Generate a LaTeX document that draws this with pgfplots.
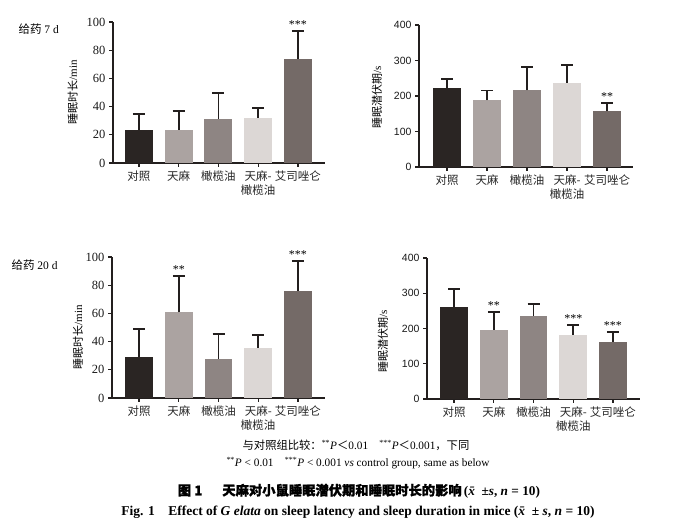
\documentclass[border=0pt]{standalone}
\usepackage{pgfplots}
\pgfplotsset{compat=1.18}
\usepackage{fontspec}
\setmainfont{Liberation Serif}
\newfontfamily\cjk{Noto Sans CJK SC}
\newfontfamily\cjkb{Noto Sans CJK SC}[FakeBold=1]
\newfontfamily\sansf{Liberation Sans}
\definecolor{cA}{HTML}{2A2523}
\definecolor{cB}{HTML}{ABA3A1}
\definecolor{cC}{HTML}{8E8583}
\definecolor{cD}{HTML}{DCD7D5}
\definecolor{cE}{HTML}{746A67}
\definecolor{axc}{HTML}{231F1E}
\newcommand\onebar[4]{\addplot[ybar, bar width=0.7, bar shift=0pt, fill=#1, draw=none,
  error bars/.cd, y dir=plus, y explicit, error mark=-,
  error bar style={line width=1.8pt, axc},
  error mark options={rotate=90, line width=1.8pt, axc, mark size=6pt}]
  coordinates {(#2,#3) +- (0,#4)};}
\tikzset{star/.style={anchor=base, inner sep=0pt, font=\fontsize{12}{12}\selectfont, yshift=2.5pt}}
\pgfplotsset{
  panel/.style={scale only axis, axis lines=left,
    axis line style={-, line width=1.5pt, axc},
    ymin=0, xtick={0,1,2,3,4},
    xticklabels={对照,天麻,橄榄油,{天麻-\\橄榄油},艾司唑仑},
    tick style={line width=1.3pt, axc}, tick align=outside, major tick length=4pt,
    xticklabel style={font=\cjk\fontsize{11.5}{14}\selectfont, align=center, anchor=north, text=black!85},
    /pgf/number format/assume math mode=true,
    ylabel style={rotate=0, anchor=center, font=\fontsize{11}{12}\selectfont},
    clip=false},
  leftp/.style={panel, ymax=100, ytick={0,20,...,100},
    yticklabel style={font=\fontsize{12.5}{12}\selectfont, text=black!90},
    ylabel={{\cjk 睡眠时长}/min}},
  rightp/.style={panel, ymax=400, ytick={0,100,...,400},
    yticklabel style={font=\sansf\fontsize{10.5}{10}\selectfont, text=black!90},
    ylabel={{\cjk 睡眠潜伏期}/s}}
}
\begin{document}
\begin{tikzpicture}[x=1pt,y=1pt]
\useasboundingbox (0,0) rectangle (684,526);
% ---- panel 1: 7 d, duration
\begin{axis}[leftp, at={(113pt,363pt)}, anchor=south west, width=212pt, height=141pt,
  xmin=-0.65, xmax=4.68, ylabel style={at={(axis description cs:-0.19,0.5)}}]
\onebar{cA}{0}{23.5}{11.3}
\onebar{cB}{1}{23.5}{13.5}
\onebar{cC}{2}{31.5}{18.1}
\onebar{cD}{3}{32.2}{6.6}
\onebar{cE}{4}{74.1}{19.3}
\node[star] at (axis cs:4,93.4) {***};
\end{axis}
% ---- panel 2: 7 d, latency
\begin{axis}[rightp, at={(419pt,359pt)}, anchor=south west, width=214pt, height=142pt,
  xmin=-0.7, xmax=4.65, ylabel style={at={(axis description cs:-0.196,0.49)}}]
\onebar{cA}{0}{223}{24.5}
\onebar{cB}{1}{188}{27.5}
\onebar{cC}{2}{215.5}{65.5}
\onebar{cD}{3}{238}{49}
\onebar{cE}{4}{157}{23}
\node[star] at (axis cs:4,180) {**};
\end{axis}
% ---- panel 3: 20 d, duration
\begin{axis}[leftp, at={(112pt,128pt)}, anchor=south west, width=213pt, height=141pt,
  xmin=-0.68, xmax=4.68, ylabel style={at={(axis description cs:-0.16,0.43)}}]
\onebar{cA}{0}{29.4}{19.3}
\onebar{cB}{1}{60.9}{25.7}
\onebar{cC}{2}{28}{17.4}
\onebar{cD}{3}{35.5}{9.4}
\onebar{cE}{4}{76}{21.2}
\node[star] at (axis cs:1,86.6) {**};
\node[star] at (axis cs:4,97.2) {***};
\end{axis}
% ---- panel 4: 20 d, latency
\begin{axis}[rightp, at={(427pt,127pt)}, anchor=south west, width=213pt, height=141pt,
  xmin=-0.68, xmax=4.68, ylabel style={at={(axis description cs:-0.207,0.41)}}]
\onebar{cA}{0}{262}{49}
\onebar{cB}{1}{196}{50}
\onebar{cC}{2}{235.5}{33.1}
\onebar{cD}{3}{181.6}{27.4}
\onebar{cE}{4}{161.7}{29.3}
\node[star] at (axis cs:1,246) {**};
\node[star] at (axis cs:3,209) {***};
\node[star] at (axis cs:4,191) {***};
\end{axis}
% ---- texts
\node[anchor=west, font=\fontsize{11.5}{12}\selectfont] at (15pt,497pt) {{\cjk 给药} 7 d};
\node[anchor=west, font=\fontsize{11.5}{12}\selectfont] at (8pt,261pt) {{\cjk 给药} 20 d};
\node[font=\fontsize{11.3}{12}\selectfont] at (356pt,81pt)
  {{\cjk 与对照组比较：}\textsuperscript{**}\textit{P}{\cjk ＜}0.01\quad\textsuperscript{***}\textit{P}{\cjk ＜}0.001{\cjk ，下同}};
\node[font=\fontsize{11.3}{12}\selectfont] at (358pt,63pt)
  {\textsuperscript{**}\textit{P} < 0.01\quad\textsuperscript{***}\textit{P} < 0.001 \textit{vs} control group, same as below};
\node[font=\bfseries\fontsize{13.3}{14}\selectfont] at (359pt,35pt)
  {{\cjkb 图 1}\hspace{1.5em}{\cjkb 天麻对小鼠睡眠潜伏期和睡眠时长的影响}\,(\textit{x̄} ±\textit{s}, \textit{n} = 10)};
\node[font=\bfseries\fontsize{13.5}{14}\selectfont] at (358pt,14pt)
  {Fig. 1\hspace{1em}Effect of \textit{G elata} on sleep latency and sleep duration in mice (\textit{x̄} ± \textit{s}, \textit{n} = 10)};
\end{tikzpicture}
\end{document}
